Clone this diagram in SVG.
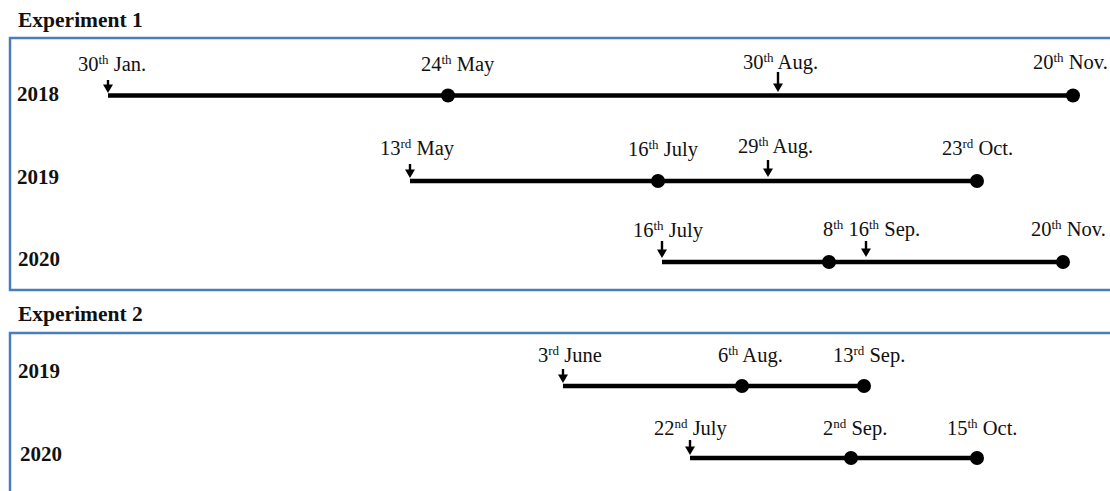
<svg xmlns="http://www.w3.org/2000/svg" width="1110" height="491" viewBox="0 0 1110 491">
<defs>
<style>
.bg{fill:#ffffff}
.box{fill:none;stroke:#4a7ebb;stroke-width:2.5}
.title{font-family:"Liberation Serif","Times New Roman",serif;font-weight:bold;font-size:21.5px;fill:#111}
.yr{font-family:"Liberation Serif","Times New Roman",serif;font-weight:bold;font-size:21px;fill:#111}
.lbl{font-family:"Liberation Serif","Times New Roman",serif;font-size:20.5px;fill:#111}
.sup{font-size:13px}
.tl{stroke:#000;stroke-width:4.5;fill:none}
.dot{fill:#000}
.ash{stroke:#000;stroke-width:2.4;fill:none}
.head{fill:#000}
</style>
<path id="ahead" d="M-5,-8.5 L5,-8.5 L0,0 Z"/>
</defs>
<rect class="bg" x="0" y="0" width="1110" height="491"/>

<g id="experiment1">
<text class="title" x="18" y="27">Experiment 1</text>
<path class="box" d="M1115,38 H10 V290 H1115"/>
<text class="yr" x="17" y="101">2018</text>
<text class="yr" x="17" y="184">2019</text>
<text class="yr" x="18" y="266">2020</text>
</g>

<g id="experiment2">
<text class="title" x="18" y="321">Experiment 2</text>
<path class="box" d="M1115,333 H10 V495"/>
<text class="yr" x="18" y="378">2019</text>
<text class="yr" x="20" y="461">2020</text>
</g>

<g id="connectors">
<!-- Exp1 2018 -->
<line class="tl" x1="108" y1="95.5" x2="1073" y2="95.5"/>
<line class="ash" x1="108" y1="80" x2="108" y2="87"/>
<use href="#ahead" class="head" x="108" y="93"/>
<line class="ash" x1="778" y1="72" x2="778" y2="86"/>
<use href="#ahead" class="head" x="778" y="92"/>
<!-- Exp1 2019 -->
<line class="tl" x1="410" y1="181" x2="977" y2="181"/>
<line class="ash" x1="410" y1="164" x2="410" y2="172"/>
<use href="#ahead" class="head" x="410" y="178"/>
<line class="ash" x1="768" y1="160" x2="768" y2="171"/>
<use href="#ahead" class="head" x="768" y="177"/>
<!-- Exp1 2020 -->
<line class="tl" x1="662" y1="262" x2="1063" y2="262"/>
<line class="ash" x1="662" y1="241" x2="662" y2="252"/>
<use href="#ahead" class="head" x="662" y="258"/>
<line class="ash" x1="866" y1="241" x2="866" y2="251"/>
<use href="#ahead" class="head" x="866" y="257"/>
<!-- Exp2 2019 -->
<line class="tl" x1="563" y1="386" x2="864" y2="386"/>
<line class="ash" x1="563" y1="369" x2="563" y2="377"/>
<use href="#ahead" class="head" x="563" y="383"/>
<!-- Exp2 2020 -->
<line class="tl" x1="690" y1="458" x2="977" y2="458"/>
<line class="ash" x1="690" y1="440" x2="690" y2="449"/>
<use href="#ahead" class="head" x="690" y="455"/>
</g>

<g id="t2018">
<circle class="dot" cx="448" cy="95.5" r="7"/>
<circle class="dot" cx="1073" cy="95.5" r="7"/>
<text class="lbl" x="78" y="71">30<tspan class="sup" dy="-7">th</tspan><tspan dy="7"> Jan.</tspan></text>
<text class="lbl" x="421" y="71">24<tspan class="sup" dy="-7">th</tspan><tspan dy="7"> May</tspan></text>
<text class="lbl" x="743" y="69">30<tspan class="sup" dy="-7">th</tspan><tspan dy="7"> Aug.</tspan></text>
<text class="lbl" x="1033" y="69">20<tspan class="sup" dy="-7">th</tspan><tspan dy="7"> Nov.</tspan></text>
</g>

<g id="t2019">
<circle class="dot" cx="658" cy="181" r="7"/>
<circle class="dot" cx="977" cy="181" r="7"/>
<text class="lbl" x="380" y="155">13<tspan class="sup" dy="-7">rd</tspan><tspan dy="7"> May</tspan></text>
<text class="lbl" x="628" y="156">16<tspan class="sup" dy="-7">th</tspan><tspan dy="7"> July</tspan></text>
<text class="lbl" x="738" y="153">29<tspan class="sup" dy="-7">th</tspan><tspan dy="7"> Aug.</tspan></text>
<text class="lbl" x="942" y="155">23<tspan class="sup" dy="-7">rd</tspan><tspan dy="7"> Oct.</tspan></text>
</g>

<g id="t2020">
<circle class="dot" cx="829" cy="262" r="7"/>
<circle class="dot" cx="1063" cy="262" r="7"/>
<text class="lbl" x="633" y="237">16<tspan class="sup" dy="-7">th</tspan><tspan dy="7"> July</tspan></text>
<text class="lbl" x="823" y="236">8<tspan class="sup" dy="-7">th</tspan><tspan dy="7"> 16</tspan><tspan class="sup" dy="-7">th</tspan><tspan dy="7"> Sep.</tspan></text>
<text class="lbl" x="1031" y="236">20<tspan class="sup" dy="-7">th</tspan><tspan dy="7"> Nov.</tspan></text>
</g>

<g id="e2t2019">
<circle class="dot" cx="742" cy="386" r="7"/>
<circle class="dot" cx="864" cy="386" r="7"/>
<text class="lbl" x="538" y="362">3<tspan class="sup" dy="-7">rd</tspan><tspan dy="7"> June</tspan></text>
<text class="lbl" x="718" y="362">6<tspan class="sup" dy="-7">th</tspan><tspan dy="7"> Aug.</tspan></text>
<text class="lbl" x="833" y="362">13<tspan class="sup" dy="-7">rd</tspan><tspan dy="7"> Sep.</tspan></text>
</g>

<g id="e2t2020">
<circle class="dot" cx="851" cy="458" r="7"/>
<circle class="dot" cx="977" cy="458" r="7"/>
<text class="lbl" x="654" y="435">22<tspan class="sup" dy="-7">nd</tspan><tspan dy="7"> July</tspan></text>
<text class="lbl" x="823" y="435">2<tspan class="sup" dy="-7">nd</tspan><tspan dy="7"> Sep.</tspan></text>
<text class="lbl" x="947" y="435">15<tspan class="sup" dy="-7">th</tspan><tspan dy="7"> Oct.</tspan></text>
</g>
</svg>
